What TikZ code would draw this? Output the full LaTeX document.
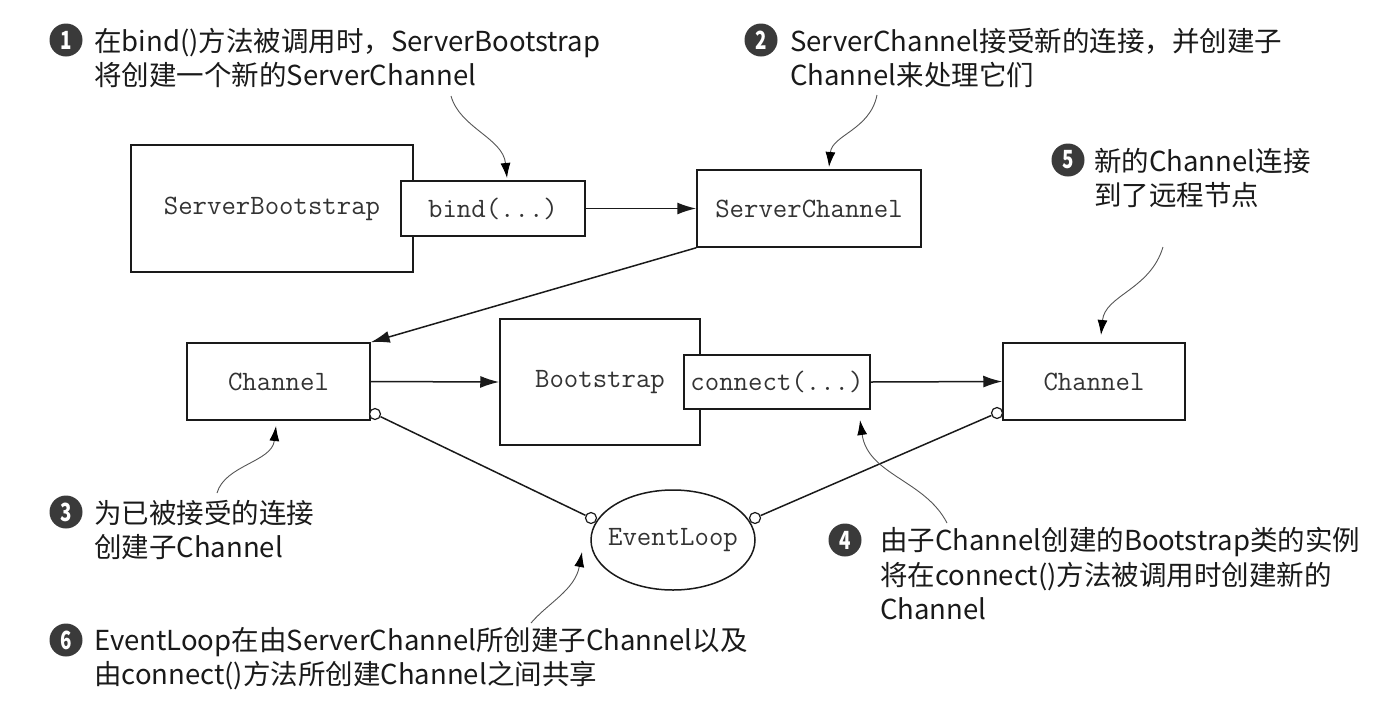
\documentclass[tikz,border=0pt]{standalone}
\usepackage{fontspec}
\setmainfont{Noto Sans CJK SC}
\usetikzlibrary{arrows.meta,shapes.geometric}
\definecolor{ink}{HTML}{1A1A1A}
\definecolor{numbg}{HTML}{3A3A3A}
\definecolor{monotext}{HTML}{333333}
\definecolor{calloutgray}{HTML}{555555}
\tikzset{
  box/.style={draw=ink, line width=1.5pt, fill=white, inner sep=0pt,
    font=\ttfamily\fontsize{28}{28}\selectfont, text=monotext},
  link/.style={draw=ink, line width=1.5pt, -{Latex[length=19pt,width=12pt]}},
  conn/.style={draw=ink, line width=1.5pt},
  callout/.style={draw=calloutgray, line width=0.9pt, -{Latex[length=15pt,width=10pt,color=black]}},
  numcirc/.style={circle, fill=numbg, minimum size=33pt, inner sep=0pt, text=white,
    font=\bfseries\fontsize{25}{25}\selectfont},
  note/.style={anchor=north west, inner sep=0pt, align=left, text=ink,
    font=\fontsize{27.5}{34.5}\selectfont},
  dot/.style={circle, draw=ink, fill=white, line width=1.2pt, minimum size=11pt, inner sep=0pt}
}
\newcommand\numtxt[1]{\scalebox{0.75}[1]{#1}}
\begin{document}
\begin{tikzpicture}[x=1pt,y=-1pt]
\useasboundingbox[fill=white] (0,0) rectangle (1386,702);

% boxes
\node[box, minimum width=282pt, minimum height=127pt] (sb) at (272,208.5) {ServerBootstrap};
\node[box, minimum width=184pt, minimum height=55pt] (bind) at (493,208.5) {bind(...)};
\node[box, minimum width=224pt, minimum height=77pt] (sc) at (809,208.5) {ServerChannel};
\node[box, minimum width=183pt, minimum height=77pt] (ch1) at (278.5,381.5) {Channel};
\node[box, minimum width=200pt, minimum height=126pt] (bs) at (600,382) {Bootstrap};
\node[box, minimum width=186pt, minimum height=54pt] (cn) at (777,382) {connect(...)};
\node[box, minimum width=182pt, minimum height=77pt] (ch2) at (1094,381.5) {Channel};
\node[box, ellipse, minimum width=164pt, minimum height=100pt] (el) at (673,540) {\makebox[0pt]{EventLoop}};

% arrows
\draw[link] (bind.east) -- (sc.west);
\draw[link] (sc.south west) -- (ch1.north east);
\draw[link] (ch1.east) -- (bs.west);
\draw[link] (cn.east) -- (ch2.west);

% shared event loop links
\node[dot] (d1) at (375,414) {};
\node[dot] (d2) at (591,518) {};
\node[dot] (d3) at (755,518) {};
\node[dot] (d4) at (997,413) {};
\draw[conn] (d1) -- (d2);
\draw[conn] (d3) -- (d4);

% notes
\node[numcirc] (n1) at (66,40) {\numtxt{1}};
\node[note] (t1) at (94,28) {在bind()方法被调用时，ServerBootstrap\\将创建一个新的ServerChannel};
\node[numcirc] (n2) at (761,40) {\numtxt{2}};
\node[note] (t2) at (790,28) {ServerChannel接受新的连接，并创建子\\Channel来处理它们};
\node[numcirc] (n5) at (1068,160) {\numtxt{5}};
\node[note] (t5) at (1094,148) {新的Channel连接\\到了远程节点};
\node[numcirc] (n3) at (66,512) {\numtxt{3}};
\node[note] (t3) at (94,500) {为已被接受的连接\\创建子Channel};
\node[numcirc] (n4) at (845,540) {\numtxt{4}};
\node[note] (t4) at (880,527) {由子Channel创建的Bootstrap类的实例\\将在connect()方法被调用时创建新的\\Channel};
\node[numcirc] (n6) at (66,640) {\numtxt{6}};
\node[note] (t6) at (94,627) {EventLoop在由ServerChannel所创建子Channel以及\\由connect()方法所创建Channel之间共享};

% callouts
\coordinate (s1) at (451,96);   \coordinate (e1) at (507,178);
\coordinate (s2) at (877,95);   \coordinate (e2) at (829,167);
\coordinate (s5) at (1163,247); \coordinate (e5) at (1101,335);
\coordinate (s3) at (217,493);  \coordinate (e3) at (276,426);
\coordinate (s4) at (947,523);  \coordinate (e4) at (860,420);
\coordinate (s6) at (531,623);  \coordinate (e6) at (582,552);
\draw[callout] (s1) .. controls (460,128) and (503,138) .. (e1);
\draw[callout] (s2) .. controls (870,130) and (832,135) .. (e2);
\draw[callout] (s5) .. controls (1150,290) and (1105,295) .. (e5);
\draw[callout] (s3) .. controls (225,465) and (272,462) .. (e3);
\draw[callout] (s4) .. controls (925,480) and (868,475) .. (e4);
\draw[callout] (s6) .. controls (548,603) and (575,590) .. (e6);
\end{tikzpicture}
\end{document}
